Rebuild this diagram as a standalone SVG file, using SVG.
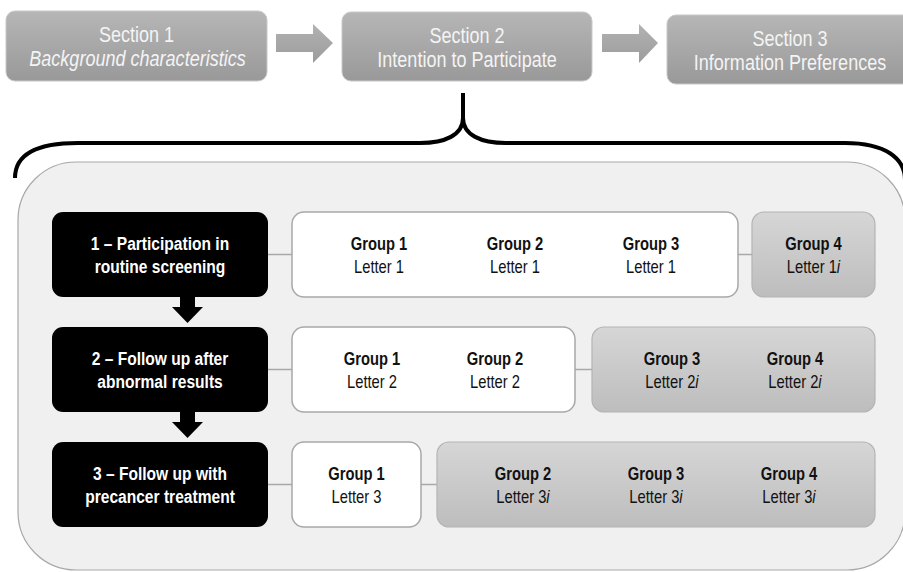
<svg xmlns="http://www.w3.org/2000/svg" width="903" height="572" viewBox="0 0 903 572">
<defs>
<linearGradient id="gSec" x1="0" y1="0" x2="0" y2="1">
<stop offset="0" stop-color="#b6b6b6"/><stop offset="1" stop-color="#999999"/>
</linearGradient>
<linearGradient id="gArr" x1="0" y1="0" x2="0" y2="1">
<stop offset="0" stop-color="#b2b2b2"/><stop offset="1" stop-color="#9c9c9c"/>
</linearGradient>
<linearGradient id="gGrp" x1="0" y1="0" x2="0" y2="1">
<stop offset="0" stop-color="#d6d6d6"/><stop offset="1" stop-color="#bdbdbd"/>
</linearGradient>
<style>
.sec{fill:url(#gSec);stroke:#c8c8c8;stroke-width:1}
.arr{fill:url(#gArr)}
.st{font-family:"Liberation Sans Narrow","Liberation Sans",Arial,sans-serif;font-size:22px;fill:#f4f4f4;text-anchor:middle}
.blk{fill:#000}
.bt{font-family:"Liberation Sans Narrow","Liberation Sans",Arial,sans-serif;font-size:19px;font-weight:bold;fill:#fff;text-anchor:middle}
.wb{fill:#fff;stroke:#a8a8a8;stroke-width:1.5}
.gb{fill:url(#gGrp);stroke:#b4b4b4;stroke-width:1.2}
.gt{font-family:"Liberation Sans Narrow","Liberation Sans",Arial,sans-serif;font-size:18px;font-weight:bold;fill:#111;text-anchor:middle}
.lt{font-family:"Liberation Sans Narrow","Liberation Sans",Arial,sans-serif;font-size:18px;fill:#111;text-anchor:middle}
.con{stroke:#a8a8a8;stroke-width:1.5;fill:none}
.brace{stroke:#000;stroke-width:4;fill:none}
</style>
</defs>

<g id="sections">
<g id="section1">
<rect class="sec" x="6" y="11" width="261" height="70" rx="9"/>
<text class="st" transform="translate(136.5 42) scale(0.82 1)">Section 1</text>
<text class="st" font-style="italic" transform="translate(137.5 66) scale(0.82 1)">Background characteristics</text>
</g>
<g id="section2">
<rect class="sec" x="342" y="12" width="250" height="69" rx="9"/>
<text class="st" transform="translate(467 43) scale(0.82 1)">Section 2</text>
<text class="st" transform="translate(467 67) scale(0.82 1)">Intention to Participate</text>
</g>
<g id="section3">
<rect class="sec" x="667" y="15" width="246" height="69" rx="9"/>
<text class="st" transform="translate(790 46) scale(0.82 1)">Section 3</text>
<text class="st" transform="translate(790 70) scale(0.82 1)">Information Preferences</text>
</g>
</g>

<g id="container">
<rect x="18" y="162" width="887" height="408" rx="58" fill="#f0f0f0" stroke="#a8a8a8" stroke-width="1.2"/>
</g>

<g id="connectors">
<polygon class="arr" points="276,34 313,34 313,24 333,43 313,63 313,52 276,52"/>
<polygon class="arr" points="602,34 639,34 639,24 658,43 639,63 639,52 602,52"/>
<path class="brace" d="M15,178 C15,155 35,143 78,143 L420,143 C445,143 463,135 463,118 L463,93 M463,118 C463,135 481,143 506,143 L845,143 C885,143 905,158 905,180"/>
<polygon class="blk" points="180,296 195,296 195,307 203,307 187.5,323 172,307 180,307"/>
<polygon class="blk" points="180,411 195,411 195,422 203,422 187.5,438 172,422 180,422"/>
<line class="con" x1="268" y1="254.5" x2="292" y2="254.5"/>
<line class="con" x1="738" y1="254.5" x2="752" y2="254.5"/>
<line class="con" x1="268" y1="369.5" x2="292" y2="369.5"/>
<line class="con" x1="575" y1="369.5" x2="592" y2="369.5"/>
<line class="con" x1="268" y1="484.5" x2="292" y2="484.5"/>
<line class="con" x1="421" y1="484.5" x2="437" y2="484.5"/>
</g>

<g id="step1">
<rect class="blk" x="52" y="212" width="216" height="85" rx="11"/>
<text class="bt" transform="translate(160 250) scale(0.82 1)">1 – Participation in</text>
<text class="bt" transform="translate(160 273) scale(0.82 1)">routine screening</text>
</g>
<g id="step2">
<rect class="blk" x="52" y="327" width="216" height="85" rx="11"/>
<text class="bt" transform="translate(160 365) scale(0.82 1)">2 – Follow up after</text>
<text class="bt" transform="translate(160 388) scale(0.82 1)">abnormal results</text>
</g>
<g id="step3">
<rect class="blk" x="52" y="442" width="216" height="85" rx="11"/>
<text class="bt" transform="translate(160 480) scale(0.82 1)">3 – Follow up with</text>
<text class="bt" transform="translate(160 503) scale(0.82 1)">precancer treatment</text>
</g>

<g id="row1-white">
<rect class="wb" x="292" y="212" width="446" height="85" rx="12"/>
<text class="gt" transform="translate(379 250) scale(0.82 1)">Group 1</text>
<text class="lt" transform="translate(379 273) scale(0.82 1)">Letter 1</text>
<text class="gt" transform="translate(515 250) scale(0.82 1)">Group 2</text>
<text class="lt" transform="translate(515 273) scale(0.82 1)">Letter 1</text>
<text class="gt" transform="translate(651 250) scale(0.82 1)">Group 3</text>
<text class="lt" transform="translate(651 273) scale(0.82 1)">Letter 1</text>
</g>
<g id="row1-gray">
<rect class="gb" x="752" y="212" width="123" height="85" rx="12"/>
<text class="gt" transform="translate(813.5 250) scale(0.82 1)">Group 4</text>
<text class="lt" transform="translate(813.5 273) scale(0.82 1)">Letter 1<tspan font-style="italic">i</tspan></text>
</g>

<g id="row2-white">
<rect class="wb" x="292" y="327" width="283" height="85" rx="12"/>
<text class="gt" transform="translate(372 365) scale(0.82 1)">Group 1</text>
<text class="lt" transform="translate(372 388) scale(0.82 1)">Letter 2</text>
<text class="gt" transform="translate(495 365) scale(0.82 1)">Group 2</text>
<text class="lt" transform="translate(495 388) scale(0.82 1)">Letter 2</text>
</g>
<g id="row2-gray">
<rect class="gb" x="592" y="327" width="283" height="85" rx="12"/>
<text class="gt" transform="translate(672 365) scale(0.82 1)">Group 3</text>
<text class="lt" transform="translate(672 388) scale(0.82 1)">Letter 2<tspan font-style="italic">i</tspan></text>
<text class="gt" transform="translate(795 365) scale(0.82 1)">Group 4</text>
<text class="lt" transform="translate(795 388) scale(0.82 1)">Letter 2<tspan font-style="italic">i</tspan></text>
</g>

<g id="row3-white">
<rect class="wb" x="292" y="442" width="129" height="85" rx="12"/>
<text class="gt" transform="translate(356.5 480) scale(0.82 1)">Group 1</text>
<text class="lt" transform="translate(356.5 503) scale(0.82 1)">Letter 3</text>
</g>
<g id="row3-gray">
<rect class="gb" x="437" y="442" width="438" height="85" rx="12"/>
<text class="gt" transform="translate(523 480) scale(0.82 1)">Group 2</text>
<text class="lt" transform="translate(523 503) scale(0.82 1)">Letter 3<tspan font-style="italic">i</tspan></text>
<text class="gt" transform="translate(656 480) scale(0.82 1)">Group 3</text>
<text class="lt" transform="translate(656 503) scale(0.82 1)">Letter 3<tspan font-style="italic">i</tspan></text>
<text class="gt" transform="translate(789 480) scale(0.82 1)">Group 4</text>
<text class="lt" transform="translate(789 503) scale(0.82 1)">Letter 3<tspan font-style="italic">i</tspan></text>
</g>
</svg>
